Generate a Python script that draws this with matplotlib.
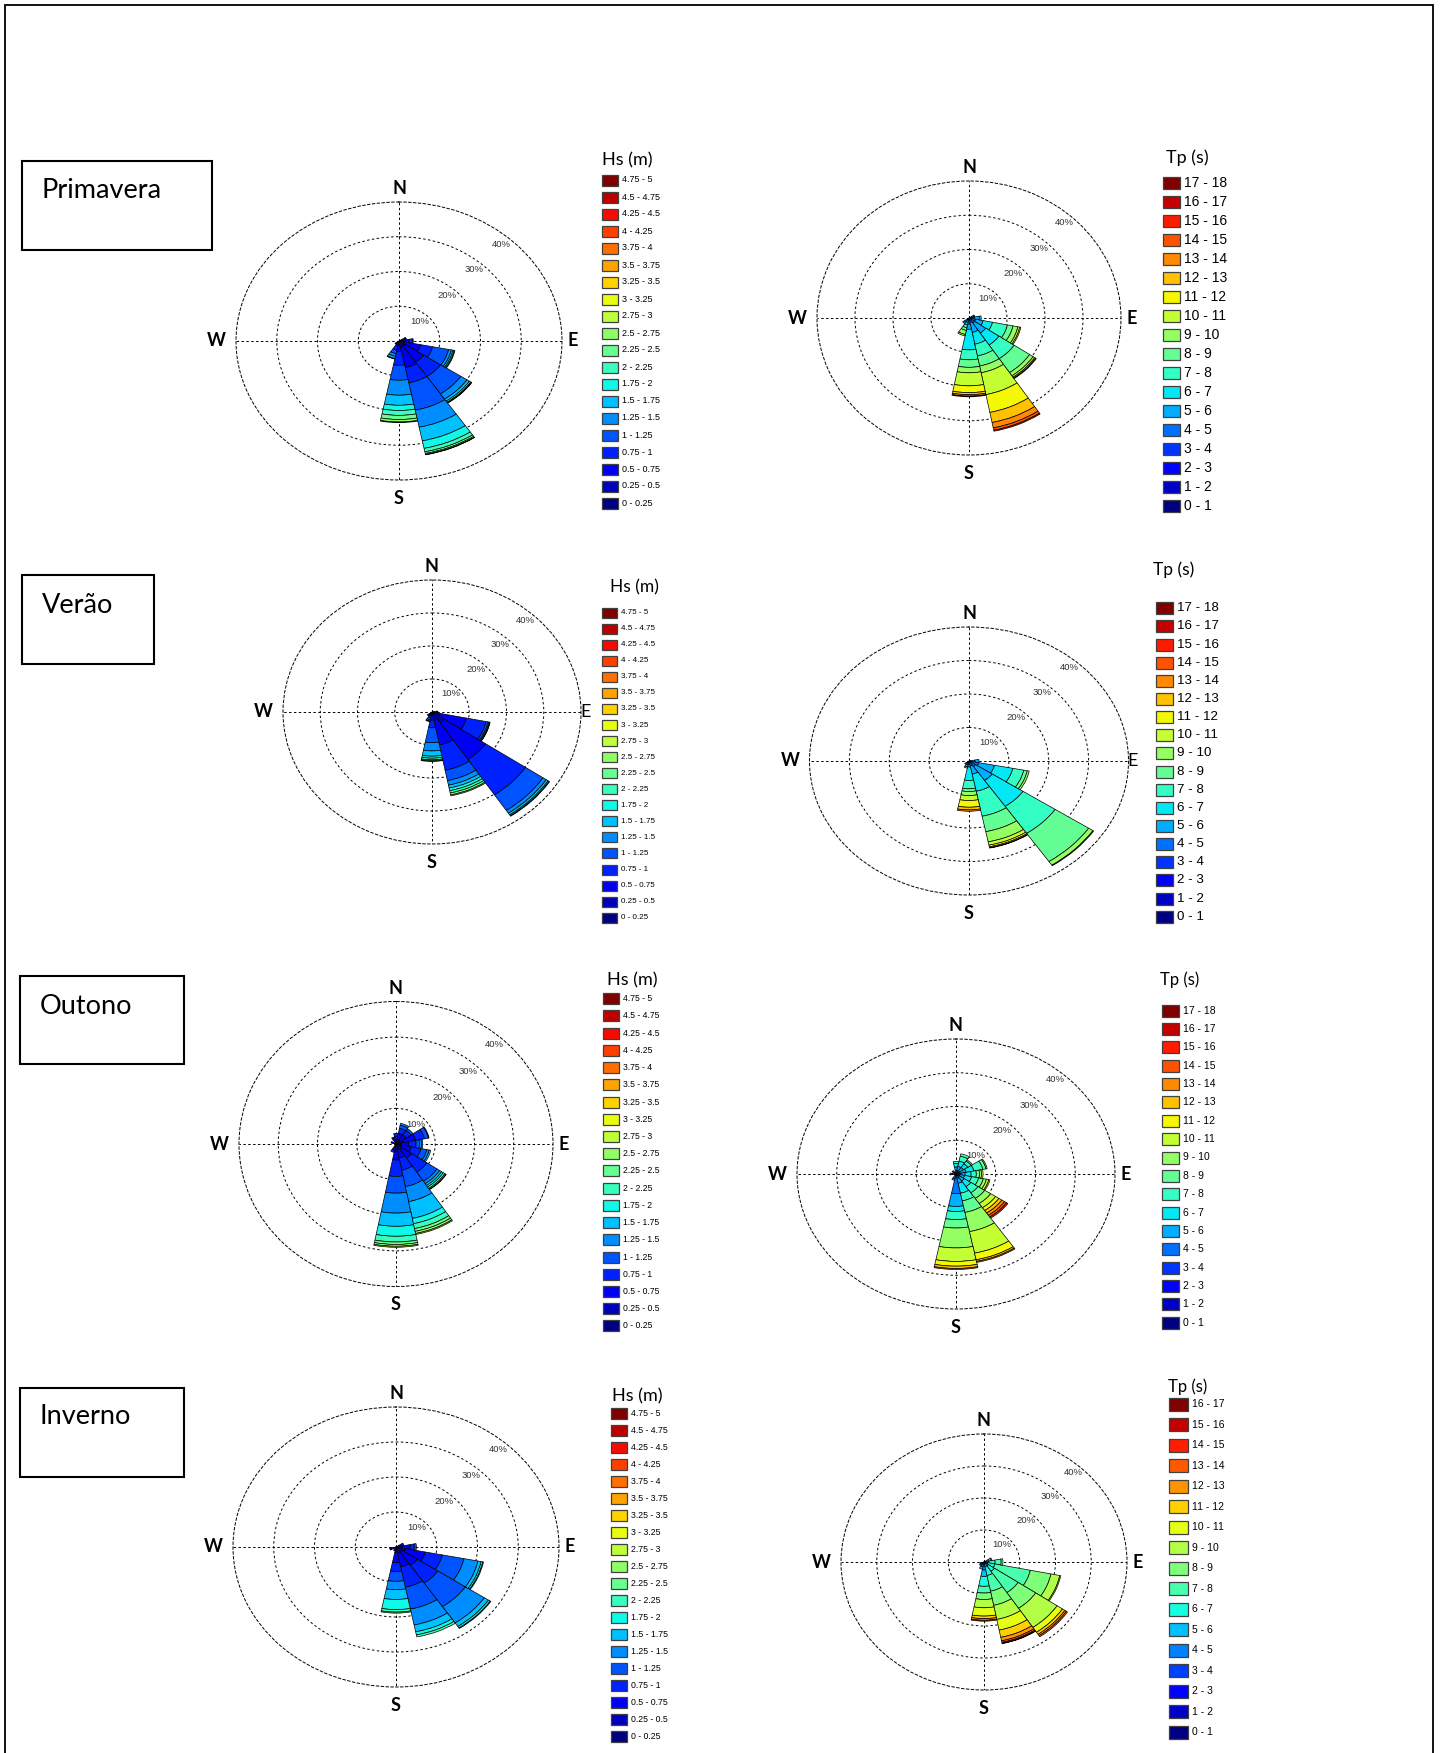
import numpy as np
import matplotlib
matplotlib.use("Agg")
import matplotlib.pyplot as plt
from matplotlib.patches import Rectangle

W_PX, H_PX = 1442, 1753

# class labels (legend rows, lowest class first)
HS_LABELS = ["0 - 0.25", "0.25 - 0.5", "0.5 - 0.75", "0.75 - 1", "1 - 1.25",
             "1.25 - 1.5", "1.5 - 1.75", "1.75 - 2", "2 - 2.25", "2.25 - 2.5",
             "2.5 - 2.75", "2.75 - 3", "3 - 3.25", "3.25 - 3.5", "3.5 - 3.75",
             "3.75 - 4", "4 - 4.25", "4.25 - 4.5", "4.5 - 4.75", "4.75 - 5"]
TP_LABELS = ["0 - 1", "1 - 2", "2 - 3", "3 - 4", "4 - 5", "5 - 6", "6 - 7",
             "7 - 8", "8 - 9", "9 - 10", "10 - 11", "11 - 12", "12 - 13",
             "13 - 14", "14 - 15", "15 - 16", "16 - 17", "17 - 18"]
TP_LABELS_INV = TP_LABELS[:17]

RINGS = [10, 20, 30, 40]
SEASONS = ["Primavera", "Verão", "Outono", "Inverno"]

# frequencies (%) per direction sector, one value per class from the lowest class
PRIM_HS_DIRS = [67.5, 90, 112.5, 135, 157.5, 180, 202.5, 225]
PRIM_HS = [
    [0.2, 0.6, 0.8, 0.3],
    [0.2, 0.8, 1.5, 0.8, 0.2],
    [0.2, 1.2, 4.0, 3.0, 4.0, 0.7, 0.4, 0.3, 0.2],
    [0.3, 1.5, 5.5, 5.0, 6.0, 1.8, 0.7, 0.4, 0.2, 0.1],
    [0.3, 1.5, 6.0, 4.5, 8.0, 5.0, 4.0, 2.2, 1.0, 0.5, 0.3, 0.1],
    [0.2, 0.8, 2.0, 4.0, 4.3, 4.3, 2.9, 1.5, 1.4, 1.2, 0.7, 0.2],
    [0.1, 0.4, 1.0, 1.2, 1.0, 0.8, 0.6, 0.2],
    [0.1, 0.3, 0.5, 0.3],
]

PRIM_TP_DIRS = [67.5, 90, 112.5, 135, 157.5, 180, 202.5, 225]
PRIM_TP = [
    [0, 0, 0.2, 0.5, 0.6, 0.3],
    [0, 0, 0.2, 0.3, 1.0, 1.2, 0.5],
    [0, 0, 0, 0.3, 1.5, 2.0, 2.5, 4.0, 1.5, 1.3, 0.5, 0.3],
    [0, 0, 0, 0.3, 1.5, 3.5, 4.2, 4.8, 4.9, 1.1, 0.5, 0.3, 0.2],
    [0, 0, 0, 0.3, 1.0, 3.0, 3.5, 3.5, 3.0, 2.0, 6.5, 5.3, 3.0, 1.6, 0.7, 0.3],
    [0, 0.1, 0.2, 0.5, 1.0, 1.5, 6.0, 2.9, 2.2, 1.6, 3.8, 2.0, 0.6, 0.4, 0.2],
    [0, 0, 0, 0, 0.5, 0.8, 0.8, 0.8, 0.8, 1.2, 0.4],
    [0, 0, 0.2, 0.5, 0.8, 0.5],
]

VERAO_HS_DIRS = [90, 112.5, 135, 157.5, 180, 202.5, 225]
VERAO_HS = [
    [0, 0.5, 0.8, 0.3],
    [0.3, 2.0, 7.1, 5.4, 0.5, 0.3, 0.2, 0.1],
    [0.5, 3.5, 13.3, 12.9, 5.7, 1.0, 0.6, 0.3, 0.2],
    [0.3, 2.0, 7.9, 7.8, 3.2, 1.4, 0.9, 0.8, 0.7, 0.6, 0.3],
    [0, 0.5, 2.0, 2.3, 4.5, 2.5, 1.6, 0.6, 0.5, 0.3, 0.2],
    [0, 0.3, 0.7, 0.8, 0.6, 0.4, 0.2],
    [0, 0.3, 0.6, 0.4, 0.2],
]

VERAO_TP_DIRS = [90, 112.5, 135, 157.5, 180, 202.5, 225]
VERAO_TP = [
    [0, 0, 0, 0.5, 1.0, 1.0],
    [0, 0, 0, 0.5, 2.0, 4.0, 4.7, 2.8, 0.9, 0.5],
    [0, 0, 0, 0.4, 1.6, 5.0, 9.3, 9.7, 10.1, 1.3, 0.2],
    [0, 0, 0, 0.3, 1.2, 2.5, 5.2, 7.6, 4.7, 3.1, 1.0, 0.5, 0.3, 0.1],
    [0, 0, 0, 0.3, 0.7, 0.8, 4.0, 2.5, 0.8, 1.2, 1.5, 2.0, 0.8, 0.4],
    [0, 0, 0, 0.3, 0.8, 0.7, 0.4],
    [0, 0, 0.2, 0.5, 0.6],
]

OUT_HS_DIRS = [0, 22.5, 45, 67.5, 90, 112.5, 135, 157.5, 180, 202.5, 292.5, 337.5]
OUT_HS = [
    [0.2, 0.8, 1.2, 0.8],
    [0.3, 1.0, 1.8, 1.4, 0.9, 0.5],
    [0.3, 1.0, 1.8, 1.5, 0.6],
    [0.3, 1.5, 3.3, 2.3, 1.0, 0.2],
    [0.3, 1.0, 2.0, 1.8, 0.9, 0.5, 0.3],
    [0.3, 1.2, 2.5, 2.5, 1.5, 0.6, 0.4],
    [0.3, 1.5, 3.0, 4.7, 3.1, 0.8, 0.6, 0.5, 0.5, 0.3, 0.1],
    [0.3, 1.2, 2.5, 3.5, 4.7, 4.3, 4.8, 1.5, 1.4, 0.8, 0.6, 0.3],
    [0.5, 1.5, 2.5, 4.6, 4.7, 5.6, 3.7, 2.8, 1.6, 0.7, 0.5, 0.3],
    [0.2, 0.6, 1.0, 0.6],
    [0.2, 0.5, 0.6],
    [0.2, 0.6, 0.8, 0.4],
]

OUT_TP_DIRS = [0, 22.5, 45, 67.5, 90, 112.5, 135, 157.5, 180, 202.5, 270, 315]
OUT_TP = [
    [0, 0, 0, 0.3, 0.8, 1.0, 1.0, 0.6],
    [0, 0, 0, 0.3, 0.8, 1.2, 1.6, 1.5, 0.7],
    [0, 0, 0, 0.3, 0.8, 1.2, 1.3, 1.0, 0.4],
    [0, 0, 0, 0.3, 0.8, 1.5, 2.0, 2.3, 0.8, 0.3],
    [0, 0, 0, 0.3, 0.8, 1.2, 1.5, 1.3, 0.8, 0.5, 0.4],
    [0, 0, 0, 0.3, 0.7, 1.2, 1.8, 1.8, 1.2, 0.8, 0.6, 0.3],
    [0, 0, 0, 0, 1.0, 1.5, 2.0, 2.2, 2.0, 1.8, 1.5, 1.0, 0.9, 0.8, 0.6, 0.4],
    [0, 0, 0, 0.3, 1.0, 1.5, 3.0, 2.3, 3.5, 5.8, 6.5, 2.0, 0.5, 0.3],
    [0, 0, 0, 0.3, 5.5, 3.8, 1.5, 2.4, 2.5, 5.9, 4.0, 1.4, 0.7, 0.3],
    [0, 0, 0, 0.4, 1.0, 0.5],
    [0, 0.3, 0.6, 0.6],
    [0, 0.2, 0.5, 0.5],
]

INV_HS_DIRS = [67.5, 90, 112.5, 135, 157.5, 180, 202.5, 247.5]
INV_HS = [
    [0.2, 0.6, 0.8, 0.4],
    [0.3, 1.2, 2.0, 1.0, 0.5],
    [0.3, 2.0, 5.0, 4.3, 5.4, 3.5, 0.8, 0.4, 0.2],
    [0.3, 1.5, 4.5, 6.1, 8.1, 5.6, 1.2, 0.5, 0.2],
    [0.3, 1.5, 4.0, 5.9, 6.4, 4.6, 2.0, 0.9, 0.6],
    [0.3, 1.2, 3.0, 2.5, 2.8, 2.4, 2.8, 2.9, 0.7, 0.3],
    [0.2, 0.4, 0.5],
    [0.2, 0.5, 0.6, 0.3],
]

INV_TP_DIRS = [67.5, 90, 112.5, 135, 157.5, 180, 202.5, 225, 247.5]
INV_TP = [
    [0, 0, 0, 0, 0.5, 0.8, 0.7, 0.3],
    [0, 0, 0, 0, 0.5, 0.8, 1.8, 1.7, 0.5],
    [0, 0, 0, 0, 0.3, 0.8, 2.0, 10.1, 5.9, 2.5, 0.3],
    [0, 0, 0, 0, 0.5, 1.0, 2.0, 8.0, 5.9, 7.2, 1.8, 0.8, 0.5, 0.4],
    [0, 0, 0, 0, 0.5, 1.0, 2.8, 5.0, 4.5, 4.5, 3.4, 2.3, 1.1, 0.5, 0.3, 0.1],
    [0, 0, 0, 0.5, 2.0, 2.0, 3.1, 2.1, 2.0, 2.6, 2.6, 0.8, 0.5, 0.3],
    [0, 0, 0, 0.5, 1.0, 0.8],
    [0, 0, 0.3, 0.6, 0.6],
    [0, 0.2, 0.5, 0.5],
]

# layout in pixels of the 1442x1753 canvas
PANELS = [
    dict(dirs=PRIM_HS_DIRS, freqs=PRIM_HS, labels=HS_LABELS, title="Hs (m)",
         center=(399, 341), radii=(163, 139), e_bold=True,
         leg=dict(tx=602, ty=160, tfs=13, x=602, y0=180, dy=17.0, w=16, h=11, fs=6.5)),
    dict(dirs=PRIM_TP_DIRS, freqs=PRIM_TP, labels=TP_LABELS, title="Tp (s)",
         center=(969, 318), radii=(152, 137), e_bold=True,
         leg=dict(tx=1166, ty=158, tfs=13, x=1163, y0=183.3, dy=19.0, w=17, h=12, fs=10)),
    dict(dirs=VERAO_HS_DIRS, freqs=VERAO_HS, labels=HS_LABELS, title="Hs (m)",
         center=(432, 712), radii=(149, 132), e_bold=False,
         leg=dict(tx=610, ty=587, tfs=12.5, x=602, y0=612.7, dy=16.05, w=15, h=10, fs=5.8)),
    dict(dirs=VERAO_TP_DIRS, freqs=VERAO_TP, labels=TP_LABELS, title="Tp (s)",
         center=(969, 761), radii=(159.5, 134), e_bold=False,
         leg=dict(tx=1153, ty=570, tfs=12.5, x=1156, y0=608.3, dy=18.14, w=17, h=12, fs=9.6)),
    dict(dirs=OUT_HS_DIRS, freqs=OUT_HS, labels=HS_LABELS, title="Hs (m)",
         center=(396, 1144), radii=(157, 142.5), e_bold=True,
         leg=dict(tx=607, ty=980, tfs=13, x=603, y0=998.7, dy=17.22, w=16, h=11, fs=6.2)),
    dict(dirs=OUT_TP_DIRS, freqs=OUT_TP, labels=TP_LABELS, title="Tp (s)",
         center=(956, 1174), radii=(159, 135), e_bold=True,
         leg=dict(tx=1160, ty=980, tfs=12, x=1162, y0=1010.7, dy=18.35, w=17, h=12, fs=7.5)),
    dict(dirs=INV_HS_DIRS, freqs=INV_HS, labels=HS_LABELS, title="Hs (m)",
         center=(396, 1547), radii=(163, 140), e_bold=True,
         leg=dict(tx=612, ty=1396, tfs=13, x=611, y0=1413.3, dy=17.0, w=16, h=11, fs=6.3)),
    dict(dirs=INV_TP_DIRS, freqs=INV_TP, labels=TP_LABELS_INV, title="Tp (s)",
         center=(984, 1562), radii=(143, 128), e_bold=True,
         leg=dict(tx=1168, ty=1387, tfs=12, x=1169, y0=1404.3, dy=20.5, w=19, h=13, fs=7.5)),
]

# season boxes: (x0, y0, x1, y1) and text anchor (x, y)
SEASON_BOXES = [(22, 161, 212, 250), (22, 575, 154, 664), (20, 976, 184, 1064), (20, 1388, 184, 1477)]
SEASON_TEXT = [(42, 191), (42, 605), (40, 1006), (40, 1417)]

DOTS = (0, (2.5, 2.5))


def fx(x):
    return x / W_PX


def fy(y):
    return 1 - y / H_PX


def draw_rose(fig, p):
    cx, cy = p["center"]
    rx, ry = p["radii"]
    ax = fig.add_axes([fx(cx - rx), fy(cy + ry), 2 * rx / W_PX, 2 * ry / H_PX],
                      projection="polar")
    ax.set_aspect("auto")
    ax.set_theta_zero_location("N")
    ax.set_theta_direction(-1)
    ax.set_ylim(0, 40)
    ax.set_yticks(RINGS[:-1])
    ax.set_yticklabels([])
    ax.set_xticks(np.deg2rad([0, 90, 180, 270]))
    ax.set_xticklabels([])
    ax.grid(True, color="black", linestyle=DOTS, linewidth=0.7)
    ax.spines["polar"].set_linestyle(DOTS)
    ax.spines["polar"].set_linewidth(0.7)
    ax.patch.set_alpha(0)

    n = len(p["labels"])
    colors = plt.cm.jet(np.linspace(0, 1, n))
    theta = np.deg2rad(p["dirs"])
    table = np.zeros((len(p["dirs"]), n))
    for i, row in enumerate(p["freqs"]):
        table[i, :len(row)] = row
    bottom = np.zeros(len(theta))
    for k in range(n):
        h = table[:, k]
        m = h > 0
        if m.any():
            ax.bar(theta[m], h[m], width=np.deg2rad(22.5), bottom=bottom[m],
                   color=colors[k], edgecolor="black", linewidth=0.5, zorder=3)
        bottom = bottom + h

    for r in RINGS:
        ax.text(np.deg2rad(42), r - 2.5, f"{r}%", ha="center", va="center",
                fontsize=6.8, color="#333333", family="Liberation Sans", zorder=4)

    kw = dict(xycoords="axes fraction", textcoords="offset points",
              ha="center", va="center", fontsize=13, family="Lato")
    ax.annotate("N", (0.5, 1), xytext=(0, 9.5), fontweight="bold", **kw)
    ax.annotate("S", (0.5, 0), xytext=(0, -13), fontweight="bold", **kw)
    ax.annotate("W", (0, 0.5), xytext=(-14, 0), fontweight="bold", **kw)
    if p["e_bold"]:
        ax.annotate("E", (1, 0.5), xytext=(8, 0), fontweight="bold", **kw)
    else:
        ax.annotate("E", (1, 0.5), xytext=(3, 0), fontweight="normal", **kw)

    # legend column, highest class on top
    lg = p["leg"]
    fig.text(fx(lg["tx"]), fy(lg["ty"]), p["title"], ha="left", va="center",
             fontsize=lg["tfs"], family="Lato")
    for j in range(n):
        k = n - 1 - j
        yc = lg["y0"] + j * lg["dy"]
        fig.add_artist(Rectangle((fx(lg["x"]), fy(yc + lg["h"] / 2)),
                                 lg["w"] / W_PX, lg["h"] / H_PX,
                                 transform=fig.transFigure, facecolor=colors[k],
                                 edgecolor="#404040", linewidth=0.9))
        fig.text(fx(lg["x"] + lg["w"] + 4), fy(yc), p["labels"][k], ha="left",
                 va="center", fontsize=lg["fs"], family="Liberation Sans")


def main():
    fig = plt.figure(figsize=(W_PX / 100, H_PX / 100), dpi=100)
    fig.patch.set_facecolor("white")

    # outer frame (bottom edge runs off the page)
    fig.add_artist(Rectangle((fx(5), fy(1770)), (1433 - 5) / W_PX, (1770 - 5) / H_PX,
                             transform=fig.transFigure, fill=False,
                             edgecolor="black", linewidth=1.3))

    for name, (x0, y0, x1, y1), (tx, ty) in zip(SEASONS, SEASON_BOXES, SEASON_TEXT):
        fig.add_artist(Rectangle((fx(x0), fy(y1)), (x1 - x0) / W_PX, (y1 - y0) / H_PX,
                                 transform=fig.transFigure, fill=False,
                                 edgecolor="black", linewidth=1.5))
        fig.text(fx(tx), fy(ty), name, ha="left", va="center", fontsize=19.5,
                 family="Lato")

    for p in PANELS:
        draw_rose(fig, p)

    fig.savefig("out.png", dpi=100)


if __name__ == "__main__":
    main()
